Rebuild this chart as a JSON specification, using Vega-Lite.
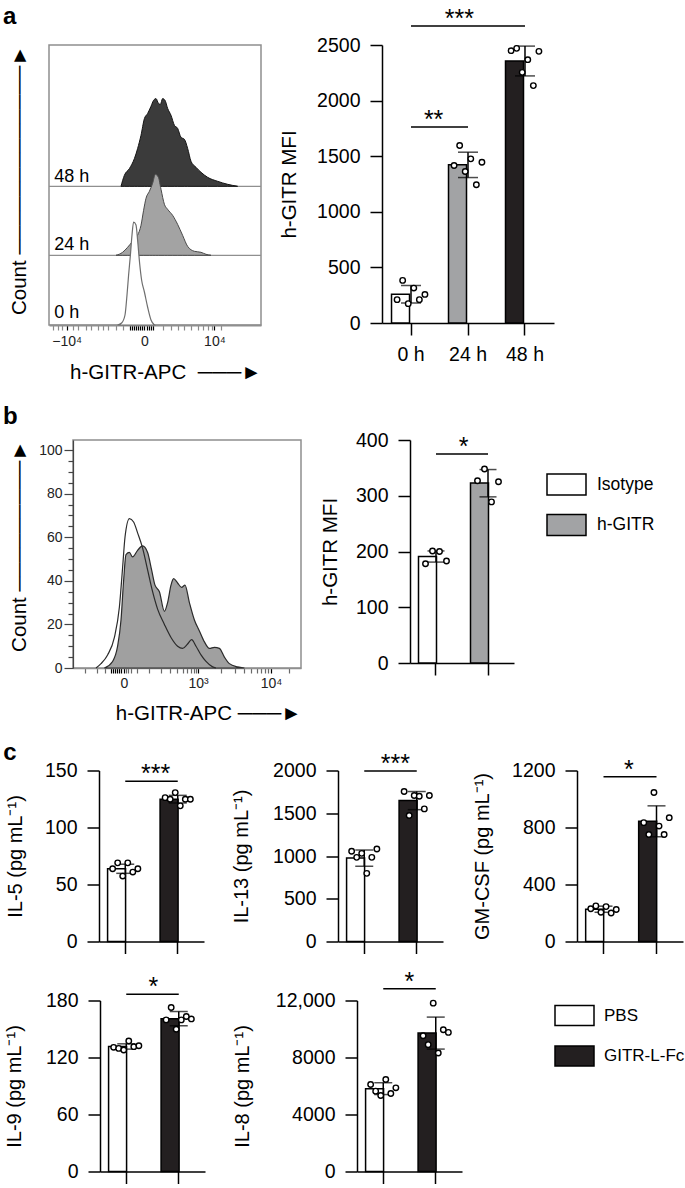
{
"$schema": "https://vega.github.io/schema/vega-lite/v6.json",
"background": "white",
"padding": {"left": 2, "top": 4, "right": 0, "bottom": 0},
"config": {
  "font": "Liberation Sans",
  "view": {"stroke": null},
  "axis": {"grid": false, "labelFont": "Liberation Sans", "titleFont": "Liberation Sans", "titleFontWeight": "normal", "labelColor": "black", "titleColor": "black", "domainColor": "black", "tickColor": "black"},
  "legend": {"labelFont": "Liberation Sans"},
  "text": {"font": "Liberation Sans"}
},
"datasets": {
  "histA": [
    {"t":"48 h","ch":360,"n":0},{"t":"48 h","ch":377,"n":11},{"t":"48 h","ch":402,"n":17.7},{"t":"48 h","ch":427,"n":27.7},{"t":"48 h","ch":443,"n":37.7},{"t":"48 h","ch":460,"n":51},{"t":"48 h","ch":477,"n":67.7},{"t":"48 h","ch":493,"n":72.7},{"t":"48 h","ch":510,"n":80},{"t":"48 h","ch":523,"n":86},{"t":"48 h","ch":535,"n":87.7},{"t":"48 h","ch":547,"n":83},{"t":"48 h","ch":557,"n":82},{"t":"48 h","ch":568,"n":87.7},{"t":"48 h","ch":580,"n":86},{"t":"48 h","ch":593,"n":78},{"t":"48 h","ch":610,"n":71},{"t":"48 h","ch":627,"n":61},{"t":"48 h","ch":643,"n":58},{"t":"48 h","ch":660,"n":49},{"t":"48 h","ch":677,"n":47},{"t":"48 h","ch":693,"n":38},{"t":"48 h","ch":710,"n":25},{"t":"48 h","ch":735,"n":19},{"t":"48 h","ch":760,"n":14},{"t":"48 h","ch":793,"n":9},{"t":"48 h","ch":843,"n":5},{"t":"48 h","ch":893,"n":2},{"t":"48 h","ch":943,"n":0},
    {"t":"24 h","ch":335,"n":0},{"t":"24 h","ch":368,"n":3},{"t":"24 h","ch":393,"n":8},{"t":"24 h","ch":418,"n":14},{"t":"24 h","ch":443,"n":20},{"t":"24 h","ch":460,"n":30},{"t":"24 h","ch":473,"n":45},{"t":"24 h","ch":485,"n":57},{"t":"24 h","ch":502,"n":64},{"t":"24 h","ch":518,"n":72},{"t":"24 h","ch":532,"n":81},{"t":"24 h","ch":547,"n":78},{"t":"24 h","ch":560,"n":66},{"t":"24 h","ch":577,"n":51},{"t":"24 h","ch":593,"n":46},{"t":"24 h","ch":618,"n":40},{"t":"24 h","ch":643,"n":31},{"t":"24 h","ch":668,"n":20},{"t":"24 h","ch":693,"n":9},{"t":"24 h","ch":727,"n":4},{"t":"24 h","ch":760,"n":3},{"t":"24 h","ch":785,"n":1},{"t":"24 h","ch":810,"n":0},
    {"t":"0 h","ch":343,"n":0},{"t":"0 h","ch":363,"n":2},{"t":"0 h","ch":380,"n":10},{"t":"0 h","ch":390,"n":30},{"t":"0 h","ch":398,"n":50},{"t":"0 h","ch":407,"n":70},{"t":"0 h","ch":415,"n":90},{"t":"0 h","ch":423,"n":103},{"t":"0 h","ch":435,"n":100},{"t":"0 h","ch":443,"n":85},{"t":"0 h","ch":453,"n":62},{"t":"0 h","ch":463,"n":45},{"t":"0 h","ch":477,"n":33},{"t":"0 h","ch":493,"n":18},{"t":"0 h","ch":510,"n":5},{"t":"0 h","ch":527,"n":0}
  ],
  "histB": [
    {"s":"Isotype","ch":115,"n":0},{"s":"Isotype","ch":140,"n":2},{"s":"Isotype","ch":173,"n":6},{"s":"Isotype","ch":207,"n":14},{"s":"Isotype","ch":232,"n":28},{"s":"Isotype","ch":248,"n":46},{"s":"Isotype","ch":260,"n":60},{"s":"Isotype","ch":282,"n":68.5},{"s":"Isotype","ch":303,"n":67},{"s":"Isotype","ch":323,"n":62},{"s":"Isotype","ch":348,"n":55},{"s":"Isotype","ch":373,"n":45},{"s":"Isotype","ch":398,"n":35},{"s":"Isotype","ch":423,"n":27},{"s":"Isotype","ch":457,"n":20},{"s":"Isotype","ch":490,"n":14},{"s":"Isotype","ch":523,"n":10},{"s":"Isotype","ch":548,"n":9},{"s":"Isotype","ch":573,"n":11},{"s":"Isotype","ch":593,"n":13},{"s":"Isotype","ch":615,"n":10},{"s":"Isotype","ch":640,"n":6},{"s":"Isotype","ch":665,"n":3},{"s":"Isotype","ch":698,"n":0.5},{"s":"Isotype","ch":715,"n":0},
    {"s":"h-GITR","ch":157,"n":0},{"s":"h-GITR","ch":198,"n":3},{"s":"h-GITR","ch":223,"n":10},{"s":"h-GITR","ch":240,"n":22},{"s":"h-GITR","ch":253,"n":40},{"s":"h-GITR","ch":265,"n":52},{"s":"h-GITR","ch":282,"n":53},{"s":"h-GITR","ch":298,"n":51},{"s":"h-GITR","ch":323,"n":54},{"s":"h-GITR","ch":348,"n":56},{"s":"h-GITR","ch":373,"n":53},{"s":"h-GITR","ch":393,"n":45},{"s":"h-GITR","ch":410,"n":38},{"s":"h-GITR","ch":432,"n":35},{"s":"h-GITR","ch":457,"n":26},{"s":"h-GITR","ch":473,"n":30},{"s":"h-GITR","ch":490,"n":38},{"s":"h-GITR","ch":503,"n":41},{"s":"h-GITR","ch":523,"n":39},{"s":"h-GITR","ch":543,"n":37},{"s":"h-GITR","ch":560,"n":38},{"s":"h-GITR","ch":582,"n":30},{"s":"h-GITR","ch":607,"n":22},{"s":"h-GITR","ch":632,"n":17},{"s":"h-GITR","ch":657,"n":12},{"s":"h-GITR","ch":682,"n":9},{"s":"h-GITR","ch":707,"n":9.5},{"s":"h-GITR","ch":732,"n":9},{"s":"h-GITR","ch":757,"n":5},{"s":"h-GITR","ch":782,"n":2},{"s":"h-GITR","ch":823,"n":0.5},{"s":"h-GITR","ch":857,"n":0}
  ],
  "a_bars": [
    {"t":"0 h","mean":258,"lo":180,"hi":338},
    {"t":"24 h","mean":1423,"lo":1308,"hi":1536},
    {"t":"48 h","mean":2355,"lo":2222,"hi":2490}
  ],
  "a_pts": [
    {"t":"0 h","rep":1,"v":210},{"t":"0 h","rep":2,"v":383},{"t":"0 h","rep":3,"v":174},{"t":"0 h","rep":4,"v":314},{"t":"0 h","rep":5,"v":210},{"t":"0 h","rep":6,"v":257},
    {"t":"24 h","rep":1,"v":1416},{"t":"24 h","rep":2,"v":1596},{"t":"24 h","rep":3,"v":1362},{"t":"24 h","rep":4,"v":1476},{"t":"24 h","rep":5,"v":1243},{"t":"24 h","rep":6,"v":1446},
    {"t":"48 h","rep":1,"v":2449},{"t":"48 h","rep":2,"v":2470},{"t":"48 h","rep":3,"v":2254},{"t":"48 h","rep":4,"v":2368},{"t":"48 h","rep":5,"v":2135},{"t":"48 h","rep":6,"v":2443}
  ],
  "b_bars": [
    {"g":"Isotype","mean":191,"lo":181,"hi":201},
    {"g":"h-GITR","mean":323,"lo":298,"hi":347}
  ],
  "b_pts": [
    {"g":"Isotype","rep":1,"v":178},{"g":"Isotype","rep":2,"v":201},{"g":"Isotype","rep":3,"v":200},{"g":"Isotype","rep":4,"v":183},
    {"g":"h-GITR","rep":1,"v":327},{"g":"h-GITR","rep":2,"v":348},{"g":"h-GITR","rep":3,"v":289},{"g":"h-GITR","rep":4,"v":325}
  ],
  "c_bars": [
    {"p":"IL-5","g":"PBS","mean":63.8,"lo":59.8,"hi":67.8},{"p":"IL-5","g":"GITR-L-Fc","mean":124.8,"lo":121.5,"hi":128.2},
    {"p":"IL-13","g":"PBS","mean":978,"lo":880,"hi":1070},{"p":"IL-13","g":"GITR-L-Fc","mean":1648,"lo":1542,"hi":1754},
    {"p":"GM-CSF","g":"PBS","mean":226,"lo":205,"hi":248},{"p":"GM-CSF","g":"GITR-L-Fc","mean":843,"lo":735,"hi":952},
    {"p":"IL-9","g":"PBS","mean":131.6,"lo":128.8,"hi":134.4},{"p":"IL-9","g":"GITR-L-Fc","mean":160.9,"lo":153.4,"hi":168.4},
    {"p":"IL-8","g":"PBS","mean":5814,"lo":5400,"hi":6230},{"p":"IL-8","g":"GITR-L-Fc","mean":9712,"lo":8590,"hi":10835}
  ],
  "c_pts": [
    {"p":"IL-5","g":"PBS","rep":1,"v":63.8},{"p":"IL-5","g":"PBS","rep":2,"v":69},{"p":"IL-5","g":"PBS","rep":3,"v":57.4},{"p":"IL-5","g":"PBS","rep":4,"v":69},{"p":"IL-5","g":"PBS","rep":5,"v":60.9},{"p":"IL-5","g":"PBS","rep":6,"v":63.8},
    {"p":"IL-5","g":"GITR-L-Fc","rep":1,"v":126.2},{"p":"IL-5","g":"GITR-L-Fc","rep":2,"v":124.8},{"p":"IL-5","g":"GITR-L-Fc","rep":3,"v":130.6},{"p":"IL-5","g":"GITR-L-Fc","rep":4,"v":119},{"p":"IL-5","g":"GITR-L-Fc","rep":5,"v":124.8},{"p":"IL-5","g":"GITR-L-Fc","rep":6,"v":124.8},
    {"p":"IL-13","g":"PBS","rep":1,"v":1055},{"p":"IL-13","g":"PBS","rep":2,"v":984},{"p":"IL-13","g":"PBS","rep":3,"v":1031},{"p":"IL-13","g":"PBS","rep":4,"v":797},{"p":"IL-13","g":"PBS","rep":5,"v":984},{"p":"IL-13","g":"PBS","rep":6,"v":1082},
    {"p":"IL-13","g":"GITR-L-Fc","rep":1,"v":1754},{"p":"IL-13","g":"GITR-L-Fc","rep":2,"v":1473},{"p":"IL-13","g":"GITR-L-Fc","rep":3,"v":1707},{"p":"IL-13","g":"GITR-L-Fc","rep":4,"v":1699},{"p":"IL-13","g":"GITR-L-Fc","rep":5,"v":1551},{"p":"IL-13","g":"GITR-L-Fc","rep":6,"v":1707},
    {"p":"GM-CSF","g":"PBS","rep":1,"v":230},{"p":"GM-CSF","g":"PBS","rep":2,"v":250},{"p":"GM-CSF","g":"PBS","rep":3,"v":205},{"p":"GM-CSF","g":"PBS","rep":4,"v":245},{"p":"GM-CSF","g":"PBS","rep":5,"v":200},{"p":"GM-CSF","g":"PBS","rep":6,"v":225},
    {"p":"GM-CSF","g":"GITR-L-Fc","rep":1,"v":834},{"p":"GM-CSF","g":"GITR-L-Fc","rep":2,"v":751},{"p":"GM-CSF","g":"GITR-L-Fc","rep":3,"v":1046},{"p":"GM-CSF","g":"GITR-L-Fc","rep":4,"v":810},{"p":"GM-CSF","g":"GITR-L-Fc","rep":5,"v":751},{"p":"GM-CSF","g":"GITR-L-Fc","rep":6,"v":869},
    {"p":"IL-9","g":"PBS","rep":1,"v":130.7},{"p":"IL-9","g":"PBS","rep":2,"v":129.6},{"p":"IL-9","g":"PBS","rep":3,"v":127.9},{"p":"IL-9","g":"PBS","rep":4,"v":137.4},{"p":"IL-9","g":"PBS","rep":5,"v":131.4},{"p":"IL-9","g":"PBS","rep":6,"v":132.4},
    {"p":"IL-9","g":"GITR-L-Fc","rep":1,"v":159.6},{"p":"IL-9","g":"GITR-L-Fc","rep":2,"v":172.6},{"p":"IL-9","g":"GITR-L-Fc","rep":3,"v":149.7},{"p":"IL-9","g":"GITR-L-Fc","rep":4,"v":159.6},{"p":"IL-9","g":"GITR-L-Fc","rep":5,"v":163.1},{"p":"IL-9","g":"GITR-L-Fc","rep":6,"v":160.6},
    {"p":"IL-8","g":"PBS","rep":1,"v":6105},{"p":"IL-8","g":"PBS","rep":2,"v":5639},{"p":"IL-8","g":"PBS","rep":3,"v":5336},{"p":"IL-8","g":"PBS","rep":4,"v":6454},{"p":"IL-8","g":"PBS","rep":5,"v":5476},{"p":"IL-8","g":"PBS","rep":6,"v":5872},
    {"p":"IL-8","g":"GITR-L-Fc","rep":1,"v":9530},{"p":"IL-8","g":"GITR-L-Fc","rep":2,"v":8901},{"p":"IL-8","g":"GITR-L-Fc","rep":3,"v":11814},{"p":"IL-8","g":"GITR-L-Fc","rep":4,"v":8318},{"p":"IL-8","g":"GITR-L-Fc","rep":5,"v":9949},{"p":"IL-8","g":"GITR-L-Fc","rep":6,"v":9763}
  ],
  "sig": [
    {"p":"a","from":"0 h","to":"48 h","y":2671,"label":"***"},
    {"p":"a","from":"0 h","to":"24 h","y":1763,"label":"**"},
    {"p":"b","from":"Isotype","to":"h-GITR","y":375,"label":"*"},
    {"p":"IL-5","from":"PBS","to":"GITR-L-Fc","y":140.6,"label":"***"},
    {"p":"IL-13","from":"PBS","to":"GITR-L-Fc","y":1995,"label":"***"},
    {"p":"GM-CSF","from":"PBS","to":"GITR-L-Fc","y":1157,"label":"*"},
    {"p":"IL-9","from":"PBS","to":"GITR-L-Fc","y":186.6,"label":"*"},
    {"p":"IL-8","from":"PBS","to":"GITR-L-Fc","y":12820,"label":"*"}
  ]
},
"spacing": 20,
"resolve": {"scale": {"fill": "independent", "xOffset": "independent"}, "legend": {"fill": "independent"}},
"vconcat": [
  {
    "bounds": "flush", "spacing": 121,
    "resolve": {"scale": {"fill": "independent", "xOffset": "independent"}, "legend": {"fill": "independent"}},
    "hconcat": [
      {
        "width": 212, "height": 280,
        "view": {"stroke": "#8f8f8f", "strokeWidth": 1.5},
        "data": {"name": "histA"},
        "resolve": {"scale": {"y": "independent"}},
        "layer": [
          {"layer": [
            {"data": {"values": [{}]}, "mark": {"type": "rule", "stroke": "#8f8f8f", "strokeWidth": 1.2},
             "encoding": {"y": {"datum": 0, "type": "quantitative", "scale": {"domain": [-138.7, 141.3], "nice": false, "zero": false}, "axis": null}}},
            {"transform": [{"filter": "datum.t == '48 h'"}],
             "mark": {"type": "area", "fill": "#3b3b3b", "stroke": "#151515", "strokeWidth": 1, "interpolate": "monotone"},
             "encoding": {
               "x": {"field": "ch", "type": "quantitative", "scale": {"domain": [0, 1060], "nice": false, "zero": false},
                     "axis": {"title": "h-GITR-APC\u00a0\u00a0───►", "titleAnchor": "end", "titleFontSize": 20.5, "titlePadding": 14, "values": [20,45,65,88,118,147,185,210,243,268,293,335,370,405,415,425,435,445,455,465,477,490,500,510,520,572,610,643,677,710,743,768,793,813,827,860], "labelExpr": "datum.value == 88 ? '−10⁴' : datum.value == 477 ? '0' : datum.value == 827 ? '10⁴' : ''", "labelFontSize": 14, "labelPadding": 4, "labelColor": "#222", "labelOverlap": false, "labelFlush": false, "tickSize": 5, "tickColor": {"condition": {"test": "indexof([88,477,827], datum.value) >= 0 || (datum.value > 395 && datum.value < 525)", "value": "#000"}, "value": "#8a8a8a"}, "tickWidth": 1.2, "domainColor": "#8f8f8f", "domainWidth": 2}},
               "y": {"field": "n", "type": "quantitative", "scale": {"domain": [-138.7, 141.3], "nice": false, "zero": false}, "axis": null},
               "y2": {"datum": 0}}},
            {"data": {"values": [{}]}, "mark": {"type": "text", "fontSize": 18, "align": "left", "baseline": "alphabetic"},
             "encoding": {"x": {"datum": 26.5, "type": "quantitative", "scale": {"domain": [0, 1060], "nice": false, "zero": false},
                                "axis": {"title": "h-GITR-APC\u00a0\u00a0───►", "titleAnchor": "end", "titleFontSize": 20.5, "titlePadding": 14, "values": [20,45,65,88,118,147,185,210,243,268,293,335,370,405,415,425,435,445,455,465,477,490,500,510,520,572,610,643,677,710,743,768,793,813,827,860], "labelExpr": "datum.value == 88 ? '−10⁴' : datum.value == 477 ? '0' : datum.value == 827 ? '10⁴' : ''", "labelFontSize": 14, "labelPadding": 4, "labelColor": "#222", "labelOverlap": false, "labelFlush": false, "tickSize": 5, "tickColor": {"condition": {"test": "indexof([88,477,827], datum.value) >= 0 || (datum.value > 395 && datum.value < 525)", "value": "#000"}, "value": "#8a8a8a"}, "tickWidth": 1.2, "domainColor": "#8f8f8f", "domainWidth": 2}},
                          "y": {"datum": 4, "type": "quantitative", "scale": {"domain": [-138.7, 141.3], "nice": false, "zero": false}, "axis": null},
                          "text": {"value": "48 h"}}}
          ]},
          {"layer": [
            {"data": {"values": [{}]}, "mark": {"type": "rule", "stroke": "#8f8f8f", "strokeWidth": 1.2},
             "encoding": {"y": {"datum": 0, "type": "quantitative", "scale": {"domain": [-69.7, 210.3], "nice": false, "zero": false}, "axis": null}}},
            {"transform": [{"filter": "datum.t == '24 h'"}],
             "mark": {"type": "area", "fill": "#a3a3a3", "stroke": "#4a4a4a", "strokeWidth": 1, "interpolate": "monotone"},
             "encoding": {
               "x": {"field": "ch", "type": "quantitative", "scale": {"domain": [0, 1060], "nice": false, "zero": false},
                     "axis": {"title": "h-GITR-APC\u00a0\u00a0───►", "titleAnchor": "end", "titleFontSize": 20.5, "titlePadding": 14, "values": [20,45,65,88,118,147,185,210,243,268,293,335,370,405,415,425,435,445,455,465,477,490,500,510,520,572,610,643,677,710,743,768,793,813,827,860], "labelExpr": "datum.value == 88 ? '−10⁴' : datum.value == 477 ? '0' : datum.value == 827 ? '10⁴' : ''", "labelFontSize": 14, "labelPadding": 4, "labelColor": "#222", "labelOverlap": false, "labelFlush": false, "tickSize": 5, "tickColor": {"condition": {"test": "indexof([88,477,827], datum.value) >= 0 || (datum.value > 395 && datum.value < 525)", "value": "#000"}, "value": "#8a8a8a"}, "tickWidth": 1.2, "domainColor": "#8f8f8f", "domainWidth": 2}},
               "y": {"field": "n", "type": "quantitative", "scale": {"domain": [-69.7, 210.3], "nice": false, "zero": false}, "axis": null},
               "y2": {"datum": 0}}},
            {"data": {"values": [{}]}, "mark": {"type": "text", "fontSize": 18, "align": "left", "baseline": "alphabetic"},
             "encoding": {"x": {"datum": 26.5, "type": "quantitative", "scale": {"domain": [0, 1060], "nice": false, "zero": false},
                                "axis": {"title": "h-GITR-APC\u00a0\u00a0───►", "titleAnchor": "end", "titleFontSize": 20.5, "titlePadding": 14, "values": [20,45,65,88,118,147,185,210,243,268,293,335,370,405,415,425,435,445,455,465,477,490,500,510,520,572,610,643,677,710,743,768,793,813,827,860], "labelExpr": "datum.value == 88 ? '−10⁴' : datum.value == 477 ? '0' : datum.value == 827 ? '10⁴' : ''", "labelFontSize": 14, "labelPadding": 4, "labelColor": "#222", "labelOverlap": false, "labelFlush": false, "tickSize": 5, "tickColor": {"condition": {"test": "indexof([88,477,827], datum.value) >= 0 || (datum.value > 395 && datum.value < 525)", "value": "#000"}, "value": "#8a8a8a"}, "tickWidth": 1.2, "domainColor": "#8f8f8f", "domainWidth": 2}},
                          "y": {"datum": 5, "type": "quantitative", "scale": {"domain": [-69.7, 210.3], "nice": false, "zero": false}, "axis": null},
                          "text": {"value": "24 h"}}}
          ]},
          {"layer": [
            {"transform": [{"filter": "datum.t == '0 h'"}],
             "mark": {"type": "area", "fill": "white", "stroke": "#6e6e6e", "strokeWidth": 1.2, "interpolate": "monotone"},
             "encoding": {
               "x": {"field": "ch", "type": "quantitative", "scale": {"domain": [0, 1060], "nice": false, "zero": false},
                     "axis": {"title": "h-GITR-APC\u00a0\u00a0───►", "titleAnchor": "end", "titleFontSize": 20.5, "titlePadding": 14, "values": [20,45,65,88,118,147,185,210,243,268,293,335,370,405,415,425,435,445,455,465,477,490,500,510,520,572,610,643,677,710,743,768,793,813,827,860], "labelExpr": "datum.value == 88 ? '−10⁴' : datum.value == 477 ? '0' : datum.value == 827 ? '10⁴' : ''", "labelFontSize": 14, "labelPadding": 4, "labelColor": "#222", "labelOverlap": false, "labelFlush": false, "tickSize": 5, "tickColor": {"condition": {"test": "indexof([88,477,827], datum.value) >= 0 || (datum.value > 395 && datum.value < 525)", "value": "#000"}, "value": "#8a8a8a"}, "tickWidth": 1.2, "domainColor": "#8f8f8f", "domainWidth": 2}},
               "y": {"field": "n", "type": "quantitative", "scale": {"domain": [0, 280], "nice": false, "zero": false},
                     "axis": {"orient": "left", "title": "Count\u00a0─────────────►", "titleAnchor": "end", "titleFontSize": 20.5, "titlePadding": 19.6, "labels": false, "ticks": false, "domain": false}},
               "y2": {"datum": 0}}},
            {"data": {"values": [{}]}, "mark": {"type": "text", "fontSize": 18, "align": "left", "baseline": "alphabetic"},
             "encoding": {"x": {"datum": 26.5, "type": "quantitative", "scale": {"domain": [0, 1060], "nice": false, "zero": false},
                                "axis": {"title": "h-GITR-APC\u00a0\u00a0───►", "titleAnchor": "end", "titleFontSize": 20.5, "titlePadding": 14, "values": [20,45,65,88,118,147,185,210,243,268,293,335,370,405,415,425,435,445,455,465,477,490,500,510,520,572,610,643,677,710,743,768,793,813,827,860], "labelExpr": "datum.value == 88 ? '−10⁴' : datum.value == 477 ? '0' : datum.value == 827 ? '10⁴' : ''", "labelFontSize": 14, "labelPadding": 4, "labelColor": "#222", "labelOverlap": false, "labelFlush": false, "tickSize": 5, "tickColor": {"condition": {"test": "indexof([88,477,827], datum.value) >= 0 || (datum.value > 395 && datum.value < 525)", "value": "#000"}, "value": "#8a8a8a"}, "tickWidth": 1.2, "domainColor": "#8f8f8f", "domainWidth": 2}},
                          "y": {"datum": 7, "type": "quantitative", "scale": {"domain": [0, 280], "nice": false, "zero": false},
                                "axis": {"orient": "left", "title": "Count\u00a0─────────────►", "titleAnchor": "end", "titleFontSize": 20.5, "titlePadding": 19.6, "labels": false, "ticks": false, "domain": false}},
                          "text": {"value": "0 h"}}},
            {"data": {"values": [{}]}, "mark": {"type": "text", "fontSize": 24, "fontWeight": "bold", "align": "left", "baseline": "alphabetic"},
             "encoding": {"x": {"datum": -230, "type": "quantitative", "scale": {"domain": [0, 1060], "nice": false, "zero": false},
                                "axis": {"title": "h-GITR-APC\u00a0\u00a0───►", "titleAnchor": "end", "titleFontSize": 20.5, "titlePadding": 14, "values": [20,45,65,88,118,147,185,210,243,268,293,335,370,405,415,425,435,445,455,465,477,490,500,510,520,572,610,643,677,710,743,768,793,813,827,860], "labelExpr": "datum.value == 88 ? '−10⁴' : datum.value == 477 ? '0' : datum.value == 827 ? '10⁴' : ''", "labelFontSize": 14, "labelPadding": 4, "labelColor": "#222", "labelOverlap": false, "labelFlush": false, "tickSize": 5, "tickColor": {"condition": {"test": "indexof([88,477,827], datum.value) >= 0 || (datum.value > 395 && datum.value < 525)", "value": "#000"}, "value": "#8a8a8a"}, "tickWidth": 1.2, "domainColor": "#8f8f8f", "domainWidth": 2}},
                          "y": {"datum": 301, "type": "quantitative", "scale": {"domain": [0, 280], "nice": false, "zero": false},
                                "axis": {"orient": "left", "title": "Count\u00a0─────────────►", "titleAnchor": "end", "titleFontSize": 20.5, "titlePadding": 19.6, "labels": false, "ticks": false, "domain": false}},
                          "text": {"value": "a"}}}
          ]}
        ]
      },
      {
        "width": 172, "height": 278,
        "encoding": {"x": {"field": "t", "type": "nominal", "scale": {"type": "band", "domain": ["0 h","24 h","48 h"], "paddingInner": 0.316, "paddingOuter": 0.167},
                           "axis": {"title": null, "labelAngle": 0, "labelFontSize": 19.5, "labelPadding": 10, "tickSize": 12, "tickWidth": 1.5, "domainWidth": 1.5}}},
        "layer": [
          {"data": {"name": "a_bars"}, "mark": {"type": "bar", "stroke": "black", "strokeWidth": 1.5},
           "encoding": {"y": {"field": "mean", "type": "quantitative", "scale": {"domain": [0, 2500], "nice": false},
                              "axis": {"title": "h-GITR MFI", "values": [0,500,1000,1500,2000,2500], "format": "d", "tickSize": 12, "tickWidth": 1.5, "domainWidth": 1.5, "labelFontSize": 19.5, "labelPadding": 10, "titleFontSize": 20.5, "titlePadding": 17}},
                        "fill": {"field": "t", "type": "nominal", "scale": {"domain": ["0 h","24 h","48 h"], "range": ["white","#a2a3a5","#231f20"]}, "legend": null}}},
          {"data": {"name": "a_bars"}, "mark": {"type": "rule", "color": "black", "strokeWidth": 1.5},
           "encoding": {"y": {"field": "lo", "type": "quantitative", "scale": {"domain": [0, 2500], "nice": false}}, "y2": {"field": "hi"}}},
          {"data": {"name": "a_bars"}, "mark": {"type": "tick", "color": "black", "thickness": 1.5, "size": 20},
           "encoding": {"y": {"field": "hi", "type": "quantitative", "scale": {"domain": [0, 2500], "nice": false}}}},
          {"data": {"name": "a_bars"}, "mark": {"type": "tick", "color": "black", "thickness": 1.5, "size": 20},
           "encoding": {"y": {"field": "lo", "type": "quantitative", "scale": {"domain": [0, 2500], "nice": false}}}},
          {"data": {"name": "a_pts"}, "mark": {"type": "point", "shape": "circle", "filled": true, "fill": "white", "stroke": "black", "strokeWidth": 1.4, "size": 30, "opacity": 1},
           "encoding": {"xOffset": {"field": "rep", "type": "nominal", "scale": {"type": "point", "padding": 1.25}},
                        "y": {"field": "v", "type": "quantitative", "scale": {"domain": [0, 2500], "nice": false}}}},
          {"data": {"name": "sig"}, "transform": [{"filter": "datum.p == 'a'"}], "mark": {"type": "rule", "color": "black", "strokeWidth": 1.5},
           "encoding": {"x": {"field": "from", "type": "nominal", "scale": {"type": "band", "domain": ["0 h","24 h","48 h"]}}, "x2": {"field": "to"},
                        "y": {"field": "y", "type": "quantitative", "scale": {"domain": [0, 2500], "nice": false}}}},
          {"data": {"name": "sig"}, "transform": [{"filter": "datum.p == 'a' && datum.label == '***'"}], "mark": {"type": "text", "fontSize": 25, "baseline": "alphabetic", "dy": 1},
           "encoding": {"x": {"field": "from", "type": "nominal", "bandPosition": 1.74, "scale": {"type": "band", "domain": ["0 h","24 h","48 h"]}},
                        "y": {"field": "y", "type": "quantitative", "scale": {"domain": [0, 2500], "nice": false}}, "text": {"field": "label"}}},
          {"data": {"name": "sig"}, "transform": [{"filter": "datum.p == 'a' && datum.label == '**'"}], "mark": {"type": "text", "fontSize": 25, "baseline": "alphabetic", "dy": 1},
           "encoding": {"x": {"field": "from", "type": "nominal", "bandPosition": 1.08, "scale": {"type": "band", "domain": ["0 h","24 h","48 h"]}},
                        "y": {"field": "y", "type": "quantitative", "scale": {"domain": [0, 2500], "nice": false}}, "text": {"field": "label"}}}
        ]
      }
    ]
  },
  {
    "spacing": 15.5,
    "resolve": {"scale": {"fill": "independent", "xOffset": "independent"}, "legend": {"fill": "independent"}},
    "vconcat": [
      {
        "bounds": "flush", "spacing": 0,
        "resolve": {"scale": {"fill": "independent", "xOffset": "independent"}, "legend": {"fill": "independent"}},
        "hconcat": [
          {"width": 24, "height": 1, "data": {"values": [{}]}, "mark": {"type": "point", "opacity": 0}, "encoding": {}},
          {
            "bounds": "flush", "spacing": 109,
            "resolve": {"scale": {"fill": "independent", "xOffset": "independent"}, "legend": {"fill": "independent"}},
            "hconcat": [
              {
                "width": 228, "height": 228,
                "view": {"stroke": "#8f8f8f", "strokeWidth": 1.5},
                "data": {"name": "histB"},
                "layer": [
                  {"transform": [{"filter": "datum.s == 'h-GITR'"}],
                   "mark": {"type": "area", "fill": "#a0a0a0", "stroke": "#2b2b2b", "strokeWidth": 1.2, "interpolate": "monotone"},
                   "encoding": {
                     "x": {"field": "ch", "type": "quantitative", "scale": {"domain": [0, 1140], "nice": false, "zero": false},
                           "axis": {"title": "h-GITR-APC\u00a0───►\u00a0\u00a0", "titleAnchor": "end", "titleFontSize": 20.5, "titlePadding": 13, "values": [60,120,160,190,200,210,220,230,240,255,265,275,290,320,380,440,485,520,550,572,590,605,615,625,740,810,855,890,918,940,958,975,990,1080], "labelExpr": "datum.value == 255 ? '0' : datum.value == 625 ? '10³' : datum.value == 990 ? '10⁴' : ''", "labelFontSize": 14, "labelPadding": 3, "labelColor": "#222", "labelOverlap": false, "labelFlush": false, "tickSize": 5, "tickColor": {"condition": {"test": "indexof([255,625,990], datum.value) >= 0 || (datum.value > 180 && datum.value < 262)", "value": "#000"}, "value": "#6a6a6a"}, "tickWidth": 1.2, "domainColor": "#8f8f8f", "domainWidth": 1.5}},
                     "y": {"field": "n", "type": "quantitative", "scale": {"domain": [0, 104.6], "nice": false, "zero": false},
                           "axis": {"title": "Count\u00a0─────────►", "titleAnchor": "end", "titleFontSize": 20.5, "titlePadding": 8.7, "values": [0,5,10,15,20,25,30,35,40,45,50,55,60,65,70,75,80,85,90,95,100], "labelExpr": "datum.value % 20 == 0 ? datum.label : ''", "labelFontSize": 14, "labelPadding": 2, "labelOverlap": false, "labelColor": "#222", "tickSize": {"condition": {"test": "datum.value % 20 == 0", "value": 9}, "value": 5}, "tickColor": "#444", "tickWidth": 1.2, "domainColor": "#444", "domainWidth": 1.2}},
                     "y2": {"datum": 0}}},
                  {"transform": [{"filter": "datum.s == 'Isotype'"}],
                   "mark": {"type": "line", "stroke": "#2b2b2b", "strokeWidth": 1.2, "interpolate": "monotone"},
                   "encoding": {
                     "x": {"field": "ch", "type": "quantitative", "scale": {"domain": [0, 1140], "nice": false, "zero": false},
                           "axis": {"title": "h-GITR-APC\u00a0───►\u00a0\u00a0", "titleAnchor": "end", "titleFontSize": 20.5, "titlePadding": 13, "values": [60,120,160,190,200,210,220,230,240,255,265,275,290,320,380,440,485,520,550,572,590,605,615,625,740,810,855,890,918,940,958,975,990,1080], "labelExpr": "datum.value == 255 ? '0' : datum.value == 625 ? '10³' : datum.value == 990 ? '10⁴' : ''", "labelFontSize": 14, "labelPadding": 3, "labelColor": "#222", "labelOverlap": false, "labelFlush": false, "tickSize": 5, "tickColor": {"condition": {"test": "indexof([255,625,990], datum.value) >= 0 || (datum.value > 180 && datum.value < 262)", "value": "#000"}, "value": "#6a6a6a"}, "tickWidth": 1.2, "domainColor": "#8f8f8f", "domainWidth": 1.5}},
                     "y": {"field": "n", "type": "quantitative", "scale": {"domain": [0, 104.6], "nice": false, "zero": false},
                           "axis": {"title": "Count\u00a0─────────►", "titleAnchor": "end", "titleFontSize": 20.5, "titlePadding": 8.7, "values": [0,5,10,15,20,25,30,35,40,45,50,55,60,65,70,75,80,85,90,95,100], "labelExpr": "datum.value % 20 == 0 ? datum.label : ''", "labelFontSize": 14, "labelPadding": 2, "labelOverlap": false, "labelColor": "#222", "tickSize": {"condition": {"test": "datum.value % 20 == 0", "value": 9}, "value": 5}, "tickColor": "#444", "tickWidth": 1.2, "domainColor": "#444", "domainWidth": 1.2}}}},
                  {"data": {"values": [{}]}, "mark": {"type": "text", "fontSize": 24, "fontWeight": "bold", "align": "left", "baseline": "alphabetic"},
                   "encoding": {"x": {"datum": -350, "type": "quantitative", "scale": {"domain": [0, 1140], "nice": false, "zero": false},
                                      "axis": {"title": "h-GITR-APC\u00a0───►\u00a0\u00a0", "titleAnchor": "end", "titleFontSize": 20.5, "titlePadding": 13, "values": [60,120,160,190,200,210,220,230,240,255,265,275,290,320,380,440,485,520,550,572,590,605,615,625,740,810,855,890,918,940,958,975,990,1080], "labelExpr": "datum.value == 255 ? '0' : datum.value == 625 ? '10³' : datum.value == 990 ? '10⁴' : ''", "labelFontSize": 14, "labelPadding": 3, "labelColor": "#222", "labelOverlap": false, "labelFlush": false, "tickSize": 5, "tickColor": {"condition": {"test": "indexof([255,625,990], datum.value) >= 0 || (datum.value > 180 && datum.value < 262)", "value": "#000"}, "value": "#6a6a6a"}, "tickWidth": 1.2, "domainColor": "#8f8f8f", "domainWidth": 1.5}},
                                "y": {"datum": 111.9, "type": "quantitative", "scale": {"domain": [0, 104.6], "nice": false, "zero": false},
                                      "axis": {"title": "Count\u00a0─────────►", "titleAnchor": "end", "titleFontSize": 20.5, "titlePadding": 8.7, "values": [0,5,10,15,20,25,30,35,40,45,50,55,60,65,70,75,80,85,90,95,100], "labelExpr": "datum.value % 20 == 0 ? datum.label : ''", "labelFontSize": 14, "labelPadding": 2, "labelOverlap": false, "labelColor": "#222", "tickSize": {"condition": {"test": "datum.value % 20 == 0", "value": 9}, "value": 5}, "tickColor": "#444", "tickWidth": 1.2, "domainColor": "#444", "domainWidth": 1.2}},
                                "text": {"value": "b"}}}
                ]
              },
              {
                "width": 104, "height": 223,
                "encoding": {"x": {"field": "g", "type": "nominal", "scale": {"type": "band", "domain": ["Isotype","h-GITR"], "paddingInner": 0.327, "paddingOuter": 0.1635},
                                   "axis": {"title": null, "labels": false, "tickSize": 12, "tickWidth": 1.5, "domainWidth": 1.5}}},
                "layer": [
                  {"data": {"name": "b_bars"}, "mark": {"type": "bar", "stroke": "black", "strokeWidth": 1.5},
                   "encoding": {"y": {"field": "mean", "type": "quantitative", "scale": {"domain": [0, 400], "nice": false},
                                      "axis": {"title": "h-GITR MFI", "values": [0,100,200,300,400], "format": "d", "tickSize": 12, "tickWidth": 1.5, "domainWidth": 1.5, "labelFontSize": 19.5, "labelPadding": 10, "titleFontSize": 20.5, "titlePadding": 14.5}},
                                "fill": {"field": "g", "type": "nominal", "scale": {"domain": ["Isotype","h-GITR"], "range": ["white","#a2a3a5"]},
                                         "legend": {"orient": "none", "legendX": 136, "legendY": 24, "title": null, "symbolType": "M-1,-0.538H1V0.538H-1Z", "symbolSize": 1521, "symbolStrokeColor": "black", "symbolStrokeWidth": 1.5, "labelFontSize": 17.5, "labelOffset": 10, "rowPadding": 6.5, "labelColor": "black"}}}},
                  {"data": {"name": "b_bars"}, "mark": {"type": "rule", "color": "black", "strokeWidth": 1.5},
                   "encoding": {"y": {"field": "lo", "type": "quantitative", "scale": {"domain": [0, 400], "nice": false}}, "y2": {"field": "hi"}}},
                  {"data": {"name": "b_bars"}, "mark": {"type": "tick", "color": "black", "thickness": 1.5, "size": 17},
                   "encoding": {"y": {"field": "hi", "type": "quantitative", "scale": {"domain": [0, 400], "nice": false}}}},
                  {"data": {"name": "b_bars"}, "mark": {"type": "tick", "color": "black", "thickness": 1.5, "size": 17},
                   "encoding": {"y": {"field": "lo", "type": "quantitative", "scale": {"domain": [0, 400], "nice": false}}}},
                  {"data": {"name": "b_pts"}, "mark": {"type": "point", "shape": "circle", "filled": true, "fill": "white", "stroke": "black", "strokeWidth": 1.4, "size": 30, "opacity": 1},
                   "encoding": {"xOffset": {"field": "rep", "type": "nominal", "scale": {"type": "point", "padding": 1.1}},
                                "y": {"field": "v", "type": "quantitative", "scale": {"domain": [0, 400], "nice": false}}}},
                  {"data": {"name": "sig"}, "transform": [{"filter": "datum.p == 'b'"}], "mark": {"type": "rule", "color": "black", "strokeWidth": 1.5},
                   "encoding": {"x": {"field": "from", "type": "nominal", "scale": {"type": "band", "domain": ["Isotype","h-GITR"]}}, "x2": {"field": "to"},
                                "y": {"field": "y", "type": "quantitative", "scale": {"domain": [0, 400], "nice": false}}}},
                  {"data": {"name": "sig"}, "transform": [{"filter": "datum.p == 'b'"}], "mark": {"type": "text", "fontSize": 25, "baseline": "alphabetic", "dy": 1},
                   "encoding": {"x": {"field": "from", "type": "nominal", "bandPosition": 1.29, "scale": {"type": "band", "domain": ["Isotype","h-GITR"]}},
                                "y": {"field": "y", "type": "quantitative", "scale": {"domain": [0, 400], "nice": false}}, "text": {"field": "label"}}}
                ]
              }
            ]
          }
        ]
      },
      {
        "spacing": 15,
        "resolve": {"scale": {"fill": "independent", "xOffset": "independent"}, "legend": {"fill": "independent"}},
        "vconcat": [
          {
            "bounds": "flush", "spacing": 0,
            "resolve": {"scale": {"fill": "independent", "xOffset": "independent"}, "legend": {"fill": "independent"}},
            "hconcat": [
              {"width": 50, "height": 1, "data": {"values": [{}]}, "mark": {"type": "point", "opacity": 0}, "encoding": {}},
              {
                "bounds": "flush", "spacing": 134,
                "resolve": {"scale": {"fill": "independent", "xOffset": "independent"}, "legend": {"fill": "independent"}},
                "hconcat": [
                  {
                    "width": 105, "height": 171,
                    "encoding": {"x": {"field": "g", "type": "nominal", "scale": {"type": "band", "domain": ["PBS","GITR-L-Fc"], "paddingInner": 0.327, "paddingOuter": 0.1635},
                                       "axis": {"title": null, "labels": false, "tickSize": 12, "tickWidth": 1.5, "domainWidth": 1.5}}},
                    "layer": [
                      {"data": {"name": "c_bars"}, "transform": [{"filter": "datum.p == 'IL-5'"}], "mark": {"type": "bar", "stroke": "black", "strokeWidth": 1.5},
                       "encoding": {"y": {"field": "mean", "type": "quantitative", "scale": {"domain": [0, 150], "nice": false},
                                          "axis": {"title": "IL-5 (pg mL⁻¹)", "values": [0,50,100,150], "format": "d", "tickSize": 12, "tickWidth": 1.5, "domainWidth": 1.5, "labelFontSize": 19.5, "labelPadding": 10, "titleFontSize": 20, "titlePadding": 19}},
                                    "fill": {"field": "g", "type": "nominal", "scale": {"domain": ["PBS","GITR-L-Fc"], "range": ["white","#231f20"]}, "legend": null}}},
                      {"data": {"name": "c_bars"}, "transform": [{"filter": "datum.p == 'IL-5'"}], "mark": {"type": "rule", "color": "black", "strokeWidth": 1.5},
                       "encoding": {"y": {"field": "lo", "type": "quantitative", "scale": {"domain": [0, 150], "nice": false}}, "y2": {"field": "hi"}}},
                      {"data": {"name": "c_bars"}, "transform": [{"filter": "datum.p == 'IL-5'"}], "mark": {"type": "tick", "color": "black", "thickness": 1.5, "size": 18},
                       "encoding": {"y": {"field": "hi", "type": "quantitative", "scale": {"domain": [0, 150], "nice": false}}}},
                      {"data": {"name": "c_bars"}, "transform": [{"filter": "datum.p == 'IL-5'"}], "mark": {"type": "tick", "color": "black", "thickness": 1.5, "size": 18},
                       "encoding": {"y": {"field": "lo", "type": "quantitative", "scale": {"domain": [0, 150], "nice": false}}}},
                      {"data": {"name": "c_pts"}, "transform": [{"filter": "datum.p == 'IL-5'"}], "mark": {"type": "point", "shape": "circle", "filled": true, "fill": "white", "stroke": "black", "strokeWidth": 1.4, "size": 30, "opacity": 1},
                       "encoding": {"xOffset": {"field": "rep", "type": "nominal", "scale": {"type": "point", "padding": 1.15}},
                                    "y": {"field": "v", "type": "quantitative", "scale": {"domain": [0, 150], "nice": false}}}},
                      {"data": {"name": "sig"}, "transform": [{"filter": "datum.p == 'IL-5'"}], "mark": {"type": "rule", "color": "black", "strokeWidth": 1.5},
                       "encoding": {"x": {"field": "from", "type": "nominal", "scale": {"type": "band", "domain": ["PBS","GITR-L-Fc"]}}, "x2": {"field": "to"},
                                    "y": {"field": "y", "type": "quantitative", "scale": {"domain": [0, 150], "nice": false}}}},
                      {"data": {"name": "sig"}, "transform": [{"filter": "datum.p == 'IL-5'"}], "mark": {"type": "text", "fontSize": 25, "baseline": "alphabetic", "dy": 1},
                       "encoding": {"x": {"field": "from", "type": "nominal", "bandPosition": 1.36, "scale": {"type": "band", "domain": ["PBS","GITR-L-Fc"]}},
                                    "y": {"field": "y", "type": "quantitative", "scale": {"domain": [0, 150], "nice": false}}, "text": {"field": "label"}}},
                      {"data": {"values": [{"g": "PBS"}]}, "mark": {"type": "text", "fontSize": 24, "fontWeight": "bold", "align": "left", "baseline": "alphabetic"},
                       "encoding": {"x": {"field": "g", "type": "nominal", "bandPosition": -2.95, "scale": {"type": "band", "domain": ["PBS","GITR-L-Fc"]}},
                                    "y": {"datum": 159.6, "type": "quantitative", "scale": {"domain": [0, 150], "nice": false}},
                                    "text": {"value": "c"}}}
                    ]
                  },
                  {
                    "width": 105, "height": 171,
                    "encoding": {"x": {"field": "g", "type": "nominal", "scale": {"type": "band", "domain": ["PBS","GITR-L-Fc"], "paddingInner": 0.327, "paddingOuter": 0.1635},
                                       "axis": {"title": null, "labels": false, "tickSize": 12, "tickWidth": 1.5, "domainWidth": 1.5}}},
                    "layer": [
                      {"data": {"name": "c_bars"}, "transform": [{"filter": "datum.p == 'IL-13'"}], "mark": {"type": "bar", "stroke": "black", "strokeWidth": 1.5},
                       "encoding": {"y": {"field": "mean", "type": "quantitative", "scale": {"domain": [0, 2000], "nice": false},
                                          "axis": {"title": "IL-13 (pg mL⁻¹)", "values": [0,500,1000,1500,2000], "format": "d", "tickSize": 12, "tickWidth": 1.5, "domainWidth": 1.5, "labelFontSize": 19.5, "labelPadding": 10, "titleFontSize": 20, "titlePadding": 21}},
                                    "fill": {"field": "g", "type": "nominal", "scale": {"domain": ["PBS","GITR-L-Fc"], "range": ["white","#231f20"]}, "legend": null}}},
                      {"data": {"name": "c_bars"}, "transform": [{"filter": "datum.p == 'IL-13'"}], "mark": {"type": "rule", "color": "black", "strokeWidth": 1.5},
                       "encoding": {"y": {"field": "lo", "type": "quantitative", "scale": {"domain": [0, 2000], "nice": false}}, "y2": {"field": "hi"}}},
                      {"data": {"name": "c_bars"}, "transform": [{"filter": "datum.p == 'IL-13'"}], "mark": {"type": "tick", "color": "black", "thickness": 1.5, "size": 18},
                       "encoding": {"y": {"field": "hi", "type": "quantitative", "scale": {"domain": [0, 2000], "nice": false}}}},
                      {"data": {"name": "c_bars"}, "transform": [{"filter": "datum.p == 'IL-13'"}], "mark": {"type": "tick", "color": "black", "thickness": 1.5, "size": 18},
                       "encoding": {"y": {"field": "lo", "type": "quantitative", "scale": {"domain": [0, 2000], "nice": false}}}},
                      {"data": {"name": "c_pts"}, "transform": [{"filter": "datum.p == 'IL-13'"}], "mark": {"type": "point", "shape": "circle", "filled": true, "fill": "white", "stroke": "black", "strokeWidth": 1.4, "size": 30, "opacity": 1},
                       "encoding": {"xOffset": {"field": "rep", "type": "nominal", "scale": {"type": "point", "padding": 1.15}},
                                    "y": {"field": "v", "type": "quantitative", "scale": {"domain": [0, 2000], "nice": false}}}},
                      {"data": {"name": "sig"}, "transform": [{"filter": "datum.p == 'IL-13'"}], "mark": {"type": "rule", "color": "black", "strokeWidth": 1.5},
                       "encoding": {"x": {"field": "from", "type": "nominal", "scale": {"type": "band", "domain": ["PBS","GITR-L-Fc"]}}, "x2": {"field": "to"},
                                    "y": {"field": "y", "type": "quantitative", "scale": {"domain": [0, 2000], "nice": false}}}},
                      {"data": {"name": "sig"}, "transform": [{"filter": "datum.p == 'IL-13'"}], "mark": {"type": "text", "fontSize": 25, "baseline": "alphabetic", "dy": 1},
                       "encoding": {"x": {"field": "from", "type": "nominal", "bandPosition": 1.38, "scale": {"type": "band", "domain": ["PBS","GITR-L-Fc"]}},
                                    "y": {"field": "y", "type": "quantitative", "scale": {"domain": [0, 2000], "nice": false}}, "text": {"field": "label"}}}
                    ]
                  },
                  {
                    "width": 106, "height": 171,
                    "encoding": {"x": {"field": "g", "type": "nominal", "scale": {"type": "band", "domain": ["PBS","GITR-L-Fc"], "paddingInner": 0.327, "paddingOuter": 0.1635},
                                       "axis": {"title": null, "labels": false, "tickSize": 12, "tickWidth": 1.5, "domainWidth": 1.5}}},
                    "layer": [
                      {"data": {"name": "c_bars"}, "transform": [{"filter": "datum.p == 'GM-CSF'"}], "mark": {"type": "bar", "stroke": "black", "strokeWidth": 1.5},
                       "encoding": {"y": {"field": "mean", "type": "quantitative", "scale": {"domain": [0, 1200], "nice": false},
                                          "axis": {"title": "GM-CSF (pg mL⁻¹)", "values": [0,400,800,1200], "format": "d", "tickSize": 12, "tickWidth": 1.5, "domainWidth": 1.5, "labelFontSize": 19.5, "labelPadding": 10, "titleFontSize": 20, "titlePadding": 19}},
                                    "fill": {"field": "g", "type": "nominal", "scale": {"domain": ["PBS","GITR-L-Fc"], "range": ["white","#231f20"]}, "legend": null}}},
                      {"data": {"name": "c_bars"}, "transform": [{"filter": "datum.p == 'GM-CSF'"}], "mark": {"type": "rule", "color": "black", "strokeWidth": 1.5},
                       "encoding": {"y": {"field": "lo", "type": "quantitative", "scale": {"domain": [0, 1200], "nice": false}}, "y2": {"field": "hi"}}},
                      {"data": {"name": "c_bars"}, "transform": [{"filter": "datum.p == 'GM-CSF'"}], "mark": {"type": "tick", "color": "black", "thickness": 1.5, "size": 18},
                       "encoding": {"y": {"field": "hi", "type": "quantitative", "scale": {"domain": [0, 1200], "nice": false}}}},
                      {"data": {"name": "c_bars"}, "transform": [{"filter": "datum.p == 'GM-CSF'"}], "mark": {"type": "tick", "color": "black", "thickness": 1.5, "size": 18},
                       "encoding": {"y": {"field": "lo", "type": "quantitative", "scale": {"domain": [0, 1200], "nice": false}}}},
                      {"data": {"name": "c_pts"}, "transform": [{"filter": "datum.p == 'GM-CSF'"}], "mark": {"type": "point", "shape": "circle", "filled": true, "fill": "white", "stroke": "black", "strokeWidth": 1.4, "size": 30, "opacity": 1},
                       "encoding": {"xOffset": {"field": "rep", "type": "nominal", "scale": {"type": "point", "padding": 1.15}},
                                    "y": {"field": "v", "type": "quantitative", "scale": {"domain": [0, 1200], "nice": false}}}},
                      {"data": {"name": "sig"}, "transform": [{"filter": "datum.p == 'GM-CSF'"}], "mark": {"type": "rule", "color": "black", "strokeWidth": 1.5},
                       "encoding": {"x": {"field": "from", "type": "nominal", "scale": {"type": "band", "domain": ["PBS","GITR-L-Fc"]}}, "x2": {"field": "to"},
                                    "y": {"field": "y", "type": "quantitative", "scale": {"domain": [0, 1200], "nice": false}}}},
                      {"data": {"name": "sig"}, "transform": [{"filter": "datum.p == 'GM-CSF'"}], "mark": {"type": "text", "fontSize": 25, "baseline": "alphabetic", "dy": 1},
                       "encoding": {"x": {"field": "from", "type": "nominal", "bandPosition": 1.21, "scale": {"type": "band", "domain": ["PBS","GITR-L-Fc"]}},
                                    "y": {"field": "y", "type": "quantitative", "scale": {"domain": [0, 1200], "nice": false}}, "text": {"field": "label"}}}
                    ]
                  }
                ]
              }
            ]
          },
          {
            "bounds": "flush", "spacing": 0,
            "resolve": {"scale": {"fill": "independent", "xOffset": "independent"}, "legend": {"fill": "independent"}},
            "hconcat": [
              {"width": 51, "height": 1, "data": {"values": [{}]}, "mark": {"type": "point", "opacity": 0}, "encoding": {}},
              {
                "bounds": "flush", "spacing": 152,
                "resolve": {"scale": {"fill": "independent", "xOffset": "independent"}, "legend": {"fill": "independent"}},
                "hconcat": [
                  {
                    "width": 105, "height": 171,
                    "encoding": {"x": {"field": "g", "type": "nominal", "scale": {"type": "band", "domain": ["PBS","GITR-L-Fc"], "paddingInner": 0.327, "paddingOuter": 0.1635},
                                       "axis": {"title": null, "labels": false, "tickSize": 12, "tickWidth": 1.5, "domainWidth": 1.5}}},
                    "layer": [
                      {"data": {"name": "c_bars"}, "transform": [{"filter": "datum.p == 'IL-9'"}], "mark": {"type": "bar", "stroke": "black", "strokeWidth": 1.5},
                       "encoding": {"y": {"field": "mean", "type": "quantitative", "scale": {"domain": [0, 180], "nice": false},
                                          "axis": {"title": "IL-9 (pg mL⁻¹)", "values": [0,60,120,180], "format": "d", "tickSize": 12, "tickWidth": 1.5, "domainWidth": 1.5, "labelFontSize": 19.5, "labelPadding": 10, "titleFontSize": 20, "titlePadding": 20.6}},
                                    "fill": {"field": "g", "type": "nominal", "scale": {"domain": ["PBS","GITR-L-Fc"], "range": ["white","#231f20"]}, "legend": null}}},
                      {"data": {"name": "c_bars"}, "transform": [{"filter": "datum.p == 'IL-9'"}], "mark": {"type": "rule", "color": "black", "strokeWidth": 1.5},
                       "encoding": {"y": {"field": "lo", "type": "quantitative", "scale": {"domain": [0, 180], "nice": false}}, "y2": {"field": "hi"}}},
                      {"data": {"name": "c_bars"}, "transform": [{"filter": "datum.p == 'IL-9'"}], "mark": {"type": "tick", "color": "black", "thickness": 1.5, "size": 18},
                       "encoding": {"y": {"field": "hi", "type": "quantitative", "scale": {"domain": [0, 180], "nice": false}}}},
                      {"data": {"name": "c_bars"}, "transform": [{"filter": "datum.p == 'IL-9'"}], "mark": {"type": "tick", "color": "black", "thickness": 1.5, "size": 18},
                       "encoding": {"y": {"field": "lo", "type": "quantitative", "scale": {"domain": [0, 180], "nice": false}}}},
                      {"data": {"name": "c_pts"}, "transform": [{"filter": "datum.p == 'IL-9'"}], "mark": {"type": "point", "shape": "circle", "filled": true, "fill": "white", "stroke": "black", "strokeWidth": 1.4, "size": 30, "opacity": 1},
                       "encoding": {"xOffset": {"field": "rep", "type": "nominal", "scale": {"type": "point", "padding": 1.15}},
                                    "y": {"field": "v", "type": "quantitative", "scale": {"domain": [0, 180], "nice": false}}}},
                      {"data": {"name": "sig"}, "transform": [{"filter": "datum.p == 'IL-9'"}], "mark": {"type": "rule", "color": "black", "strokeWidth": 1.5},
                       "encoding": {"x": {"field": "from", "type": "nominal", "scale": {"type": "band", "domain": ["PBS","GITR-L-Fc"]}}, "x2": {"field": "to"},
                                    "y": {"field": "y", "type": "quantitative", "scale": {"domain": [0, 180], "nice": false}}}},
                      {"data": {"name": "sig"}, "transform": [{"filter": "datum.p == 'IL-9'"}], "mark": {"type": "text", "fontSize": 25, "baseline": "alphabetic", "dy": 1},
                       "encoding": {"x": {"field": "from", "type": "nominal", "bandPosition": 1.27, "scale": {"type": "band", "domain": ["PBS","GITR-L-Fc"]}},
                                    "y": {"field": "y", "type": "quantitative", "scale": {"domain": [0, 180], "nice": false}}, "text": {"field": "label"}}}
                    ]
                  },
                  {
                    "width": 105, "height": 171,
                    "encoding": {"x": {"field": "g", "type": "nominal", "scale": {"type": "band", "domain": ["PBS","GITR-L-Fc"], "paddingInner": 0.327, "paddingOuter": 0.1635},
                                       "axis": {"title": null, "labels": false, "tickSize": 12, "tickWidth": 1.5, "domainWidth": 1.5}}},
                    "layer": [
                      {"data": {"name": "c_bars"}, "transform": [{"filter": "datum.p == 'IL-8'"}], "mark": {"type": "bar", "stroke": "black", "strokeWidth": 1.5},
                       "encoding": {"y": {"field": "mean", "type": "quantitative", "scale": {"domain": [0, 12000], "nice": false},
                                          "axis": {"title": "IL-8 (pg mL⁻¹)", "values": [0,4000,8000,12000], "labelExpr": "datum.value >= 10000 ? format(datum.value, ',') : format(datum.value, 'd')", "tickSize": 12, "tickWidth": 1.5, "domainWidth": 1.5, "labelFontSize": 19.5, "labelPadding": 10, "titleFontSize": 20, "titlePadding": 22.5}},
                                    "fill": {"field": "g", "type": "nominal", "scale": {"domain": ["PBS","GITR-L-Fc"], "range": ["white","#231f20"]},
                                             "legend": {"orient": "none", "legendX": 197, "legendY": -5.5, "title": null, "symbolType": "M-1,-0.513H1V0.513H-1Z", "symbolSize": 1521, "symbolStrokeColor": "black", "symbolStrokeWidth": 1.5, "labelFontSize": 17, "labelOffset": 9, "rowPadding": 6.5, "labelColor": "black"}}}},
                      {"data": {"name": "c_bars"}, "transform": [{"filter": "datum.p == 'IL-8'"}], "mark": {"type": "rule", "color": "black", "strokeWidth": 1.5},
                       "encoding": {"y": {"field": "lo", "type": "quantitative", "scale": {"domain": [0, 12000], "nice": false}}, "y2": {"field": "hi"}}},
                      {"data": {"name": "c_bars"}, "transform": [{"filter": "datum.p == 'IL-8'"}], "mark": {"type": "tick", "color": "black", "thickness": 1.5, "size": 18},
                       "encoding": {"y": {"field": "hi", "type": "quantitative", "scale": {"domain": [0, 12000], "nice": false}}}},
                      {"data": {"name": "c_bars"}, "transform": [{"filter": "datum.p == 'IL-8'"}], "mark": {"type": "tick", "color": "black", "thickness": 1.5, "size": 18},
                       "encoding": {"y": {"field": "lo", "type": "quantitative", "scale": {"domain": [0, 12000], "nice": false}}}},
                      {"data": {"name": "c_pts"}, "transform": [{"filter": "datum.p == 'IL-8'"}], "mark": {"type": "point", "shape": "circle", "filled": true, "fill": "white", "stroke": "black", "strokeWidth": 1.4, "size": 30, "opacity": 1},
                       "encoding": {"xOffset": {"field": "rep", "type": "nominal", "scale": {"type": "point", "padding": 1.15}},
                                    "y": {"field": "v", "type": "quantitative", "scale": {"domain": [0, 12000], "nice": false}}}},
                      {"data": {"name": "sig"}, "transform": [{"filter": "datum.p == 'IL-8'"}], "mark": {"type": "rule", "color": "black", "strokeWidth": 1.5},
                       "encoding": {"x": {"field": "from", "type": "nominal", "scale": {"type": "band", "domain": ["PBS","GITR-L-Fc"]}}, "x2": {"field": "to"},
                                    "y": {"field": "y", "type": "quantitative", "scale": {"domain": [0, 12000], "nice": false}}}},
                      {"data": {"name": "sig"}, "transform": [{"filter": "datum.p == 'IL-8'"}], "mark": {"type": "text", "fontSize": 25, "baseline": "alphabetic", "dy": 1},
                       "encoding": {"x": {"field": "from", "type": "nominal", "bandPosition": 1.24, "scale": {"type": "band", "domain": ["PBS","GITR-L-Fc"]}},
                                    "y": {"field": "y", "type": "quantitative", "scale": {"domain": [0, 12000], "nice": false}}, "text": {"field": "label"}}}
                    ]
                  }
                ]
              }
            ]
          }
        ]
      }
    ]
  }
]
}
